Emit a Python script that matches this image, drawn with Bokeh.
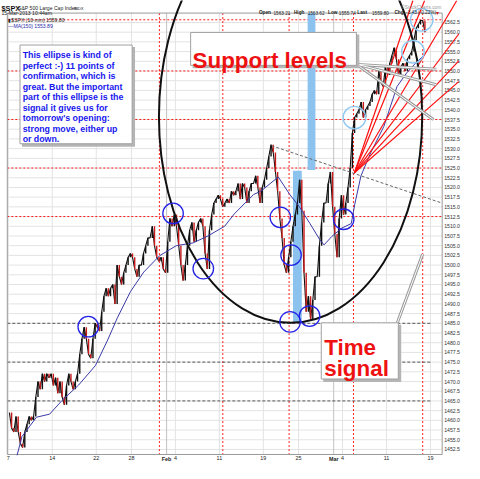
import numpy as np
from bokeh.plotting import figure
from bokeh.models import Range1d
from bokeh.core.properties import value
from bokeh.embed import file_html
from bokeh.resources import INLINE

# ---------------- data (S&P 500, 10-min chart, read at quarter-day steps) ----------------
wk_jan07 = [1462, 1458, 1457, 1461, 1457, 1454, 1453, 1457, 1459, 1461, 1460, 1461,
            1466, 1470, 1468, 1472, 1470, 1472, 1471, 1472]
wk_jan14 = [1469, 1471, 1467, 1470, 1466, 1464, 1469, 1472, 1470, 1468, 1470, 1472,
            1477, 1481, 1484, 1481, 1477, 1476, 1481, 1485]
wk_jan22 = [1484, 1483, 1488, 1492, 1494, 1492, 1494, 1495, 1490, 1500, 1497, 1495,
            1498, 1500, 1502, 1503]
wk_jan28 = [1502, 1499, 1497, 1500, 1500, 1503, 1505, 1507, 1507, 1510, 1505, 1502,
            1501, 1502, 1499, 1498, 1506, 1512, 1510, 1513]
wk_feb04 = [1510, 1505, 1500, 1496, 1500, 1505, 1509, 1511, 1506, 1509, 1511, 1512,
            1510, 1503, 1499, 1509, 1513, 1516, 1517, 1518]
wk_feb11 = [1517, 1515, 1516, 1517, 1516, 1519, 1518, 1519, 1521, 1517, 1521, 1520,
            1516, 1519, 1521, 1521, 1523, 1520, 1516, 1520]
wk_feb19 = [1522, 1525, 1528, 1531, 1529, 1524, 1519, 1512, 1507, 1500, 1498, 1502,
            1506, 1510, 1513, 1516]
wk_feb25 = [1522, 1514, 1498, 1488, 1492, 1486, 1491, 1497, 1497, 1505, 1511, 1516,
            1516, 1521, 1524, 1515, 1508, 1502, 1512, 1518]
wk_mar04 = [1513, 1516, 1520, 1525, 1534, 1538, 1539, 1540, 1542, 1538, 1540, 1541,
            1542, 1544, 1545, 1544, 1550, 1547, 1546, 1551]
wk_mar11 = [1549, 1552, 1554, 1556, 1553, 1549, 1551, 1552, 1550, 1553, 1554, 1555,
            1558, 1561, 1562, 1563, 1563, 1560]

# MA(150): trading-day position and value
ma_day = [1.0, 1.55, 3.2, 4.7, 6.1, 8.0, 9.9, 11.3, 12.4, 13.9, 15.4, 17.2, 19.1, 21.0,
          22.7, 24.6, 25.7, 27.9, 28.7, 30.7, 32.0, 33.1, 34.3, 35.4, 35.9, 36.8, 37.9,
          39.0, 39.4, 40.1, 41.2, 42.7, 44.2, 45.3, 46.3, 47.2]
ma_val = [1451.0, 1455.8, 1460.8, 1461.6, 1465.1, 1469.1, 1474.1, 1480.7, 1486.4, 1493.2,
          1498.2, 1502.4, 1505.0, 1505.7, 1507.5, 1510.0, 1513.2, 1518.2, 1519.0, 1522.7,
          1518.2, 1515.0, 1510.7, 1506.6, 1505.2, 1507.4, 1509.5, 1510.7, 1515.7, 1523.0,
          1528.9, 1535.7, 1546.0, 1549.5, 1552.0, 1553.9]

x_tick_pos = [0, 5, 10, 14, 18, 19, 24, 29, 33, 37, 38, 43, 48]
x_tick_lab = ["7", "14", "22", "28", "Feb", "4", "11", "19", "25", "Mar", "4", "11", "19"]
month_labels = ["Feb", "Mar"]
y_tick_vals = [1452.5 + 2.5 * i for i in range(45)]

red_levels = [1563.2, 1550.0, 1537.5, 1525.0, 1512.5]
black_levels = [1485.0, 1475.0, 1465.0]
red_times = [17.18, 24.39, 31.93, 39.25, 47.12]

box_text = ["This ellipse is kind of", "perfect :-) 11 points of", "confirmation, which is",
            "great. But the important", "part of this ellipse is the",
            "signal it gives us for", "tomorrow's opening:", "strong move, either up",
            "or down."]

spx = wk_jan07 + wk_jan14 + wk_jan22 + wk_jan28 + wk_feb04 + wk_feb11 + wk_feb19 + wk_feb25 + wk_mar04 + wk_mar11

# ---------------- coordinate helpers (positions given in reference-picture pixels) ----------------
W, H = 464, 463
KX, KY = 0.975, 0.968          # slight squeeze so the whole picture fits the window


def X(px):          # reference x pixel -> trading-day position
    return (px - 8.0) / 9.02


def Y(py):          # reference y pixel -> price
    return 1562.5 - (py - 22.7) / 4.01


FONT = "Liberation Sans"
L, R, T, B = 7, 453, 13, 469               # plot box in reference pixels

p = figure(width=W, height=H, x_range=Range1d(X(0), X(W / KX)), y_range=Range1d(Y(H / KY), Y(0)),
           output_backend="svg", toolbar_location=None, min_border=0)
p.axis.visible = False
p.grid.visible = False
p.outline_line_color = None
p.background_fill_color = "white"
p.border_fill_color = "white"

# grid
p.segment(x0=[X(L)] * len(y_tick_vals), y0=y_tick_vals, x1=[X(R)] * len(y_tick_vals), y1=y_tick_vals,
          line_color="#e3e3e3", line_width=1)
p.segment(x0=x_tick_pos, y0=[Y(T)] * len(x_tick_pos), x1=x_tick_pos, y1=[Y(B)] * len(x_tick_pos),
          line_color=["#c2c2c2" if l in month_labels else "#e3e3e3" for l in x_tick_lab], line_width=1)

# reference lines
p.segment(x0=[X(L)] * len(red_levels), y0=red_levels, x1=[X(R)] * len(red_levels), y1=red_levels,
          line_color="#ff1a1a", line_dash="2 2", line_width=1)
p.segment(x0=red_times, y0=[Y(T)] * len(red_times), x1=red_times, y1=[Y(B)] * len(red_times),
          line_color="#ff1a1a", line_dash="2 2", line_width=1)
p.segment(x0=[X(L)] * len(black_levels), y0=black_levels, x1=[X(442)] * len(black_levels), y1=black_levels,
          line_color="#555555", line_dash="3 2", line_width=1)

# plot box
p.quad(left=[X(L)], right=[X(R)], top=[Y(T)], bottom=[Y(B)], fill_color=None, line_color="#9a9a9a", line_width=1)

# axis labels
p.text(x=[X(455)] * len(y_tick_vals), y=y_tick_vals, text=["%.1f" % v for v in y_tick_vals],
       text_font=value(FONT), text_font_size="5.2px", text_color="#333333", text_baseline="middle")
for t, l in zip(x_tick_pos, x_tick_lab):
    p.text(x=[t], y=[Y(470.5)], text=[l], text_font=value(FONT), text_font_size="5.4px",
           text_font_style="bold" if l in month_labels else "normal", text_color="#222222",
           text_align="center", text_baseline="top")

# light blue time columns
p.quad(left=[X(300), X(315)], right=[X(309), X(323)], top=[Y(176), Y(T)], bottom=[Y(332), Y(175)],
       fill_color="#8cc3ee", line_color=None)

# price bars
xs = np.arange(len(spx)) * 0.25 + 0.125
prev = np.array(spx[:-1], dtype=float)
cur = np.array(spx[1:], dtype=float)
cols = ["#111111" if c >= q else "#c81a1a" for q, c in zip(prev, cur)]
p.line(xs, spx, line_color="#111111", line_width=1.1)
p.segment(x0=xs[1:], y0=prev, x1=xs[1:], y1=cur, line_color=cols, line_width=1.4)

# moving average
p.line(ma_day, ma_val, line_color="#3a3aa8", line_width=1.0)

# trendline (grey dashed)
p.segment(x0=[X(278)], y0=[Y(150)], x1=[X(452)], y1=[Y(209)], line_color="#666666", line_dash="3 2", line_width=1)

# red fan
fan_o = (363, 178)
fan_ends = [(423, 0), (435, 0), (468, 0), (470, 34.6), (470, 62.4), (470, 83.8)]
p.segment(x0=[X(fan_o[0])] * len(fan_ends), y0=[Y(fan_o[1])] * len(fan_ends),
          x1=[X(a) for a, b in fan_ends], y1=[Y(b) for a, b in fan_ends], line_color="#ff1010", line_width=1.2)

# big ellipse
p.ellipse(x=[X(297.5)], y=[Y(120)], width=[270 / 9.02], height=[426 / 4.01],
          fill_color=None, line_color="#111111", line_width=2)

# confirmation circles
dark_c = [(90, 337), (177, 220), (208, 277), (287, 224), (298, 263), (297, 332), (317, 326), (352, 226)]
light_c = [(363, 121), (423, 53), (432, 20)]
p.scatter(x=[X(a) for a, b in dark_c], y=[Y(b) for a, b in dark_c], marker="circle", size=20.5,
          fill_color=None, line_color="#2323e6", line_width=1.3)
p.scatter(x=[X(a) for a, b in light_c], y=[Y(b) for a, b in light_c], marker="circle", size=22.5,
          fill_color=None, line_color="#8ec8f2", line_width=1.4)

# callout lines (double grey)
call = [((366, 66), (447, 71)), ((366, 66), (447, 87)), ((368, 68), (444, 123)), ((407, 333), (433, 262))]
cx0 = [X(a[0]) for a, b in call]; cy0 = [Y(a[1]) for a, b in call]
cx1 = [X(b[0]) for a, b in call]; cy1 = [Y(b[1]) for a, b in call]
p.segment(x0=cx0, y0=cy0, x1=cx1, y1=cy1, line_color="#9a9a9a", line_width=3)
p.segment(x0=cx0, y0=cy0, x1=cx1, y1=cy1, line_color="#ffffff", line_width=1)

# boxes (shadow + box)
boxes = [(20, 135, 46, 148), (195, 365, 33, 67), (329, 408, 333, 391)]
p.quad(left=[X(l + 2) for l, r, t, b in boxes], right=[X(r + 3) for l, r, t, b in boxes],
       top=[Y(t + 2) for l, r, t, b in boxes], bottom=[Y(b + 3) for l, r, t, b in boxes],
       fill_color="#b5b5b5", line_color=None)
p.quad(left=[X(l) for l, r, t, b in boxes], right=[X(r) for l, r, t, b in boxes],
       top=[Y(t) for l, r, t, b in boxes], bottom=[Y(b) for l, r, t, b in boxes],
       fill_color="white", line_color="#a0a0a0", line_width=1)

p.text(x=[X(22.7)] * len(box_text), y=[Y(56.7 + 10.8 * i) for i in range(len(box_text))], text=box_text,
       text_font=value(FONT), text_font_size="8.8px", text_font_style="bold", text_color="#1717ee",
       text_baseline="alphabetic")
p.text(x=[X(197)], y=[Y(61.5)], text=["Support levels"], text_font=value(FONT), text_font_size="22.4px",
       text_font_style="bold", text_color="#ee1111", text_baseline="alphabetic")
p.text(x=[X(332), X(332)], y=[Y(358), Y(380)], text=["Time", "signal"], text_font=value(FONT),
       text_font_size="22.4px", text_font_style="bold", text_color="#ee1111", text_baseline="alphabetic")


# header texts
def hl(px, py, txt, size="5.2px", style="normal", color="#222222", align="left"):
    p.text(x=[X(px)], y=[Y(py)], text=[txt], text_font=value(FONT), text_font_size=size,
           text_font_style=style, text_color=color, text_align=align, text_baseline="alphabetic")


hl(1, 8, "$SPX", size="7.3px", style="bold", color="#111111")
hl(18, 8, "S&P 500 Large Cap Index", size="5.1px")
hl(75, 8, "INDX", size="4.2px")
hl(1, 13, "15-Mar-2013 10:44am", size="5.1px")
hl(8, 20, "\u25AE$SPX (10-min) 1559.80", size="5.1px")
hl(8, 26, "\u2014MA(150) 1553.89", size="5.1px", color="#2a2aa8")
hdr = [(265, "Open", "bold"), (280, "1563.21", "normal"), (301, "High", "bold"), (315, "1563.62", "normal"),
       (336, "Low", "bold"), (347, "1555.74", "normal"), (366, "Last", "bold"), (381, "1559.80", "normal"),
       (404, "Chg", "bold"), (416, "-3.43 (-0.22%)", "normal")]
for px_, t_, s_ in hdr:
    hl(px_, 12.5, t_, size="4.7px", style=s_)
hl(447, 13, "\u25BE", size="6px", color="#cc2222")
hl(452, 7, "\u00A9StockCharts.com", size="4.8px", color="#9a9a9a", align="right")

open("out.html", "w").write(file_html(p, INLINE))
